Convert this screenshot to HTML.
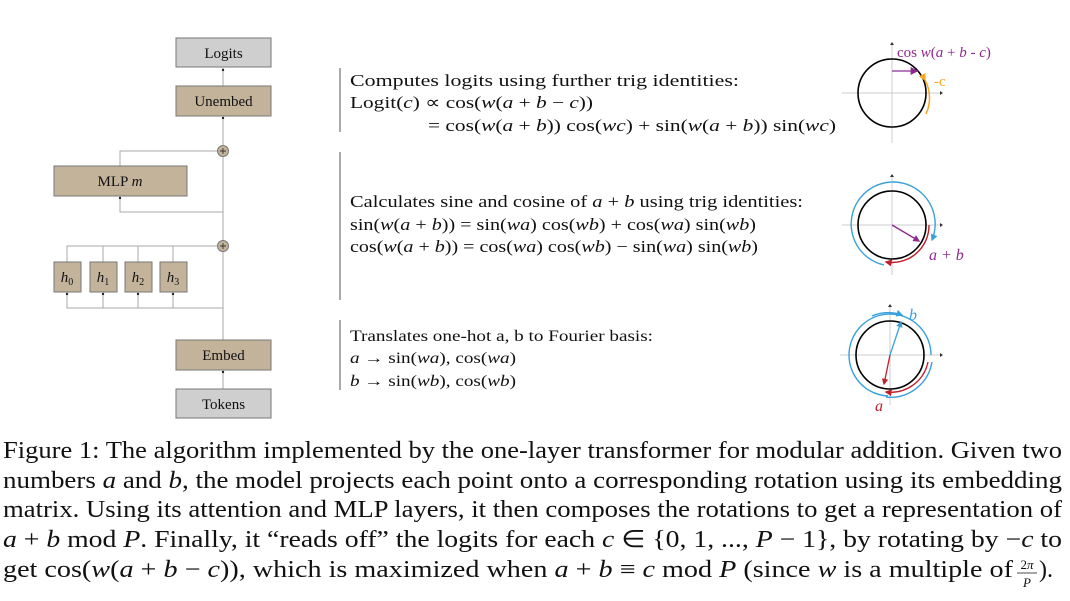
<!DOCTYPE html>
<html><head><meta charset="utf-8"><style>
html,body{margin:0;padding:0;background:#fff;}
svg{display:block;}
text{font-family:"Liberation Serif",serif;fill:#111;}
.i{font-style:italic;}
</style></head><body>
<svg width="1070" height="601" viewBox="0 0 1070 601" xmlns="http://www.w3.org/2000/svg">
<defs>
<marker id="ap" markerWidth="5" markerHeight="5" refX="4" refY="2.5" orient="auto"><path d="M0,0 L5,2.5 L0,5z" fill="#8e2a8e"/></marker>
<marker id="ab" markerWidth="5" markerHeight="5" refX="4" refY="2.5" orient="auto"><path d="M0,0 L5,2.5 L0,5z" fill="#3aa0dc"/></marker>
<marker id="ar" markerWidth="5" markerHeight="5" refX="4" refY="2.5" orient="auto"><path d="M0,0 L5,2.5 L0,5z" fill="#c0202a"/></marker>
<marker id="ao" markerWidth="5" markerHeight="5" refX="4" refY="2.5" orient="auto"><path d="M0,0 L5,2.5 L0,5z" fill="#f5a623"/></marker>
</defs>
<g stroke="#aaa" stroke-width="1" fill="none">
<line x1="223" y1="340" x2="223" y2="117"/>
<line x1="223" y1="86" x2="223" y2="68"/>
<line x1="223" y1="389" x2="223" y2="371"/>
<polyline points="223,212 120,212 120,197"/>
<polyline points="218,151 120,151 120,166"/>
<polyline points="218,246 67,246 67,262"/>
<line x1="103" y1="246" x2="103" y2="262"/><line x1="138" y1="246" x2="138" y2="262"/><line x1="173" y1="246" x2="173" y2="262"/>
<polyline points="223,308 67,308 67,293"/>
<line x1="103" y1="308" x2="103" y2="293"/><line x1="138" y1="308" x2="138" y2="293"/><line x1="173" y1="308" x2="173" y2="293"/>
</g>
<g fill="#222"><circle cx="223" cy="70" r="1.2"/><circle cx="223" cy="118" r="1.2"/><circle cx="120" cy="198" r="1.2"/><circle cx="223" cy="372" r="1.2"/>
<circle cx="67" cy="294" r="1.2"/><circle cx="103" cy="294" r="1.2"/><circle cx="138" cy="294" r="1.2"/><circle cx="173" cy="294" r="1.2"/></g>
<g stroke="#777" stroke-width="1">
<rect x="176" y="38" width="95" height="29" fill="#cfcfcf"/>
<rect x="176" y="86" width="95" height="30" fill="#c4b39b"/>
<rect x="54" y="166" width="133" height="30" fill="#c4b39b"/>
<rect x="54" y="262" width="27" height="30" fill="#c4b39b"/>
<rect x="90" y="262" width="27" height="30" fill="#c4b39b"/>
<rect x="125" y="262" width="27" height="30" fill="#c4b39b"/>
<rect x="160" y="262" width="27" height="30" fill="#c4b39b"/>
<rect x="176" y="340" width="95" height="30" fill="#c4b39b"/>
<rect x="176" y="389" width="95" height="29" fill="#cfcfcf"/>
<circle cx="223" cy="151" r="5.5" fill="#c4b39b"/>
<circle cx="223" cy="246" r="5.5" fill="#c4b39b"/>
</g>
<g stroke="#333" stroke-width="0.9"><path d="M220,151h6M223,148v6M220,246h6M223,243v6"/></g>
<g font-size="15" text-anchor="middle">
<text x="223.5" y="58">Logits</text>
<text x="223.5" y="106">Unembed</text>
<text x="120" y="186">MLP <tspan class="i">m</tspan></text>
<text x="67" y="282" class="i">h<tspan font-size="10" dy="3" font-style="normal">0</tspan></text>
<text x="103" y="282" class="i">h<tspan font-size="10" dy="3" font-style="normal">1</tspan></text>
<text x="138" y="282" class="i">h<tspan font-size="10" dy="3" font-style="normal">2</tspan></text>
<text x="173" y="282" class="i">h<tspan font-size="10" dy="3" font-style="normal">3</tspan></text>
<text x="223.5" y="360">Embed</text>
<text x="223.5" y="409">Tokens</text>
</g>
<g stroke="#555" stroke-width="1"><line x1="340" y1="68" x2="340" y2="132"/><line x1="340" y1="152" x2="340" y2="300"/><line x1="340" y1="320" x2="340" y2="390"/></g>
<g font-size="17">
<text x="350" y="86" textLength="389" lengthAdjust="spacingAndGlyphs">Computes logits using further trig identities:</text>
<text x="350" y="108" textLength="243" lengthAdjust="spacingAndGlyphs">Logit(<tspan class="i">c</tspan>) ∝ cos(<tspan class="i">w</tspan>(<tspan class="i">a</tspan> + <tspan class="i">b</tspan> − <tspan class="i">c</tspan>))</text>
<text x="428" y="131" textLength="408" lengthAdjust="spacingAndGlyphs">= cos(<tspan class="i">w</tspan>(<tspan class="i">a</tspan> + <tspan class="i">b</tspan>)) cos(<tspan class="i">wc</tspan>) + sin(<tspan class="i">w</tspan>(<tspan class="i">a</tspan> + <tspan class="i">b</tspan>)) sin(<tspan class="i">wc</tspan>)</text>
<text x="350" y="207" textLength="453" lengthAdjust="spacingAndGlyphs">Calculates sine and cosine of <tspan class="i">a</tspan> + <tspan class="i">b</tspan> using trig identities:</text>
<text x="350" y="230" textLength="406" lengthAdjust="spacingAndGlyphs">sin(<tspan class="i">w</tspan>(<tspan class="i">a</tspan> + <tspan class="i">b</tspan>)) = sin(<tspan class="i">wa</tspan>) cos(<tspan class="i">wb</tspan>) + cos(<tspan class="i">wa</tspan>) sin(<tspan class="i">wb</tspan>)</text>
<text x="350" y="252" textLength="408" lengthAdjust="spacingAndGlyphs">cos(<tspan class="i">w</tspan>(<tspan class="i">a</tspan> + <tspan class="i">b</tspan>)) = cos(<tspan class="i">wa</tspan>) cos(<tspan class="i">wb</tspan>) − sin(<tspan class="i">wa</tspan>) sin(<tspan class="i">wb</tspan>)</text>
</g>
<g font-size="15.5">
<text x="350" y="341" textLength="303" lengthAdjust="spacingAndGlyphs">Translates one-hot a, b to Fourier basis:</text>
<text x="350" y="363" textLength="166" lengthAdjust="spacingAndGlyphs"><tspan class="i">a</tspan> → sin(<tspan class="i">wa</tspan>), cos(<tspan class="i">wa</tspan>)</text>
<text x="350" y="386" textLength="166" lengthAdjust="spacingAndGlyphs"><tspan class="i">b</tspan> → sin(<tspan class="i">wb</tspan>), cos(<tspan class="i">wb</tspan>)</text>
</g>
<g stroke="#ccc" stroke-width="1"><line x1="842" y1="93" x2="940" y2="93"/><line x1="892" y1="45" x2="892" y2="143"/>
<line x1="842" y1="225" x2="940" y2="225"/><line x1="892" y1="177" x2="892" y2="275"/>
<line x1="840" y1="355" x2="940" y2="355"/><line x1="890" y1="307" x2="890" y2="405"/></g>
<g fill="#333"><path d="M940,91l3,2l-3,2z"/><path d="M890,45l2,-3l2,3z"/><path d="M940,223l3,2l-3,2z"/><path d="M890,177l2,-3l2,3z"/><path d="M940,353l3,2l-3,2z"/><path d="M888,307l2,-3l2,3z"/></g>
<g fill="none" stroke="#000" stroke-width="1.6"><circle cx="892" cy="93" r="34"/><circle cx="892" cy="225" r="34"/><circle cx="890" cy="355" r="34"/></g>
<line x1="892" y1="71" x2="917" y2="71" stroke="#a050a8" stroke-width="1.6" marker-end="url(#ap)"/>
<path d="M925,80 A38,38 0 0 1 926,114" fill="none" stroke="#f5a623" stroke-width="1.5" marker-start="url(#ao)"/>
<text x="897" y="57" font-size="15" style="fill:#8e2a8e">cos  <tspan class="i">w</tspan>(<tspan class="i">a</tspan> + <tspan class="i">b</tspan> - <tspan class="i">c</tspan>)</text>
<text x="934" y="86" font-size="15" style="fill:#f5a623">-c</text>
<path d="M884,265 A42,42 0 1 1 932,240" fill="none" stroke="#3aa0dc" stroke-width="1.4" marker-end="url(#ab)"/>
<path d="M929,225 A37,37 0 0 1 886,262" fill="none" stroke="#c0202a" stroke-width="1.4" marker-end="url(#ar)"/>
<line x1="892" y1="225" x2="919" y2="241" stroke="#8e2a8e" stroke-width="1.4" marker-end="url(#ap)"/>
<text x="929" y="260" font-size="16" class="i" style="fill:#8e2a8e">a + b</text>
<path d="M888,396 A41,41 0 1 1 931,355" fill="none" stroke="#3aa0dc" stroke-width="1.4"/>
<path d="M872,316 A42,42 0 0 1 902,315" fill="none" stroke="#3aa0dc" stroke-width="1.4" marker-end="url(#ab)"/>
<path d="M928,362 A38,38 0 0 1 886,392" fill="none" stroke="#c0202a" stroke-width="1.4" marker-end="url(#ar)"/>
<path d="M932,362 A42,42 0 0 1 886,397" fill="none" stroke="#3aa0dc" stroke-width="1.4"/>
<line x1="890" y1="355" x2="901" y2="322" stroke="#3aa0dc" stroke-width="1.3" marker-end="url(#ab)"/>
<line x1="890" y1="355" x2="884" y2="384" stroke="#c0202a" stroke-width="1.3" marker-end="url(#ar)"/>
<text x="909" y="320" font-size="16" class="i" style="fill:#3aa0dc">b</text>
<text x="875" y="411" font-size="16" class="i" style="fill:#c0202a">a</text>
<g font-size="24">
<text x="3" y="458" textLength="1059" lengthAdjust="spacingAndGlyphs">Figure 1: The algorithm implemented by the one-layer transformer for modular addition. Given two</text>
<text x="3" y="488" textLength="1059" lengthAdjust="spacingAndGlyphs">numbers <tspan class="i">a</tspan> and <tspan class="i">b</tspan>, the model projects each point onto a corresponding rotation using its embedding</text>
<text x="3" y="517" textLength="1059" lengthAdjust="spacingAndGlyphs">matrix. Using its attention and MLP layers, it then composes the rotations to get a representation of</text>
<text x="3" y="547" textLength="1059" lengthAdjust="spacingAndGlyphs"><tspan class="i">a</tspan> + <tspan class="i">b</tspan>  mod <tspan class="i">P</tspan>. Finally, it “reads off” the logits for each <tspan class="i">c</tspan> ∈ {0, 1, ..., <tspan class="i">P</tspan> − 1}, by rotating by −<tspan class="i">c</tspan> to</text>
<text x="3" y="577" textLength="1010" lengthAdjust="spacingAndGlyphs">get cos(<tspan class="i">w</tspan>(<tspan class="i">a</tspan> + <tspan class="i">b</tspan> − <tspan class="i">c</tspan>)), which is maximized when <tspan class="i">a</tspan> + <tspan class="i">b</tspan> ≡ <tspan class="i">c</tspan>  mod <tspan class="i">P</tspan> (since <tspan class="i">w</tspan> is a multiple of</text>
<text x="1027" y="569" font-size="13" text-anchor="middle">2<tspan class="i">π</tspan></text>
<line x1="1017" y1="573" x2="1037" y2="573" stroke="#111" stroke-width="0.8"/>
<text x="1027" y="587" font-size="13" text-anchor="middle" class="i">P</text>
<text x="1039" y="577">).</text>
</g>
</svg>
</body></html>
